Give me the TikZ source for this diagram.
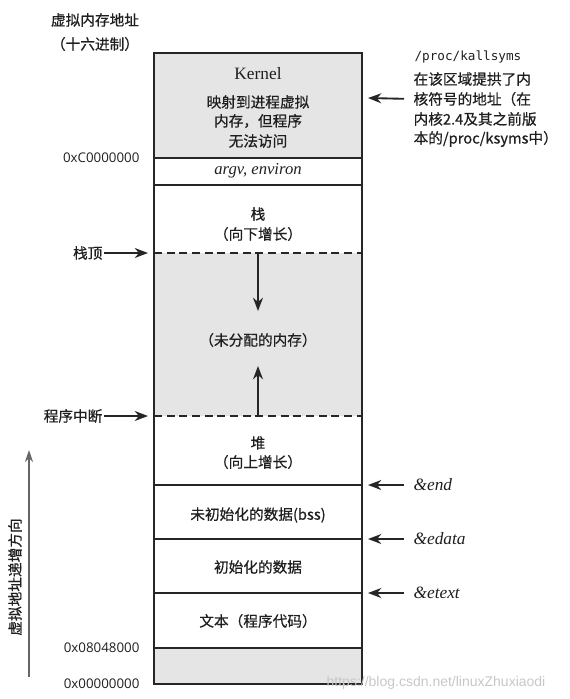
\documentclass[tikz,border=0pt]{standalone}
\usepackage{fontspec}
\setmainfont{Liberation Serif}
\newfontfamily\cjk[FakeBold=0.6]{Noto Sans CJK SC}
\newfontfamily\addrfont{Open Sans}
\newfontfamily\monofont{DejaVu Sans Mono}
\newfontfamily\markfont{Liberation Sans}
\usetikzlibrary{arrows.meta}
\colorlet{linecol}{black!85}
\colorlet{textcol}{black!88}
\colorlet{memfill}{black!10}
\colorlet{dircol}{black!60}
\tikzset{
  boxline/.style={line width=1.3pt, linecol},
  ptr/.style={-{Stealth[length=10pt,width=7.5pt]}, line width=1.4pt, linecol},
  cjktext/.style={font=\cjk\fontsize{11}{13}\selectfont, text=textcol, inner sep=1pt},
  latin/.style={font=\fontsize{13}{15}\selectfont, text=textcol, inner sep=1pt},
  addr/.style={font=\addrfont\fontsize{10}{12}\selectfont, text=textcol, anchor=east, inner sep=1pt},
  symname/.style={font=\itshape\fontsize{13}{15}\selectfont, text=textcol, anchor=west, inner sep=1pt}
}

\begin{document}
\begin{tikzpicture}[x=0.75pt, y=-0.75pt, >=Stealth]
  \useasboundingbox (0,0) rectangle (569,699);

  % Shaded regions.
  \fill[memfill] (154,53) rectangle (362,158);
  \fill[memfill] (154,253) rectangle (362,416);
  \fill[memfill] (154,648) rectangle (362,684);

  % Region boundaries.
  \foreach \n/\y in {top/53, kern/158, argv/185, stk/253, brk/416,
                     end/485, edata/539, etext/593, text/648, bot/684} {
    \coordinate (\n L) at (154,\y);
    \coordinate (\n R) at (362,\y);
  }
  \draw[boxline] (topL) rectangle (botR);
  \foreach \n in {kern, argv, end, edata, etext, text}
    \draw[boxline] (\n L) -- (\n R);
  \foreach \n in {stk, brk}
    \draw[boxline, dash pattern=on 6pt off 3.5pt] (\n L) -- (\n R);

  % Title.
  \node[cjktext] (vaddr) at (95,20) {虚拟内存地址};
  \node[cjktext] (hex) at (95,44) {（十六进制）};

  % Region texts.
  \node[latin] (kernel) at (258,74) {Kernel};
  \node[cjktext] (kmap1) at (258,102) {映射到进程虚拟};
  \node[cjktext] (kmap2) at (258,121) {内存，但程序};
  \node[cjktext] (kmap3) at (258,141) {无法访问};
  \node[latin, font=\itshape\fontsize{12.5}{14}\selectfont] (argv) at (258,171) {argv, environ};
  \node[cjktext] (stack) at (258,214) {栈};
  \node[cjktext] (stackdir) at (258,234) {（向下增长）};
  \node[cjktext] (free) at (258,340) {（未分配的内存）};
  \node[cjktext] (heap) at (258,443) {堆};
  \node[cjktext] (heapdir) at (258,462) {（向上增长）};
  \node[cjktext] (bss) at (258,515) {未初始化的数据(bss)};
  \node[cjktext] (data) at (258,567) {初始化的数据};
  \node[cjktext] (code) at (258,621) {文本（程序代码）};

  % Growth arrows.
  \coordinate (stkdown) at (258,311);
  \coordinate (heapup) at (258,366);
  \draw[ptr] (258,253) coordinate (stkmid) -- (stkdown);
  \draw[ptr] (258,416) coordinate (brkmid) -- (heapup);

  % Addresses.
  \node[addr] (kaddr) at (141,158) {0xC0000000};
  \node[addr] (taddr) at (141,648) {0x08048000};
  \node[addr] (zaddr) at (141,684) {0x00000000};

  % Left pointers.
  \node[cjktext, anchor=east] (sp) at (104,253) {栈顶};
  \node[cjktext, anchor=east] (brk) at (104,416) {程序中断};
  \coordinate (spend) at (148,253);
  \coordinate (brkend) at (148,416);
  \draw[ptr] (sp) -- (spend);
  \draw[ptr] (brk) -- (brkend);

  % Address direction.
  \coordinate (dirbot) at (29,677);
  \coordinate (dirtop) at (29,450);
  \draw[-{Stealth[length=9pt,width=6pt]}, line width=0.9pt, dircol] (dirbot) -- (dirtop);
  \node[cjktext, rotate=90] (dirlabel) at (15,577) {虚拟地址递增方向};

  % Right pointers.
  \node[font=\monofont\fontsize{9.5}{11}\selectfont, text=textcol, anchor=west, inner sep=1pt]
    (kallsyms) at (413,57) {/proc/kallsyms};
  \node[cjktext, anchor=west] (ks1) at (412,79) {在该区域提拱了内};
  \node[cjktext, anchor=west] (ks2) at (412,99) {核符号的地址（在};
  \node[cjktext, anchor=west] (ks3) at (412,119) {内核2.4及其之前版};
  \node[cjktext, anchor=west] (ks4) at (412,139) {本的/proc/ksyms中）};
  \coordinate (ksend) at (368,98);
  \draw[ptr, shorten <=6pt] (ks2.west) -- (ksend);

  \node[symname] (endsym) at (412,485) {\&end};
  \node[symname] (edatasym) at (412,539) {\&edata};
  \node[symname] (etextsym) at (412,593) {\&etext};
  \coordinate (endpt) at (368,485);
  \coordinate (edatapt) at (368,539);
  \coordinate (etextpt) at (368,593);
  \draw[ptr, shorten <=6pt] (endsym.west) -- (endpt);
  \draw[ptr, shorten <=6pt] (edatasym.west) -- (edatapt);
  \draw[ptr, shorten <=6pt] (etextsym.west) -- (etextpt);

  % Watermark.
  \node[font=\markfont\fontsize{10.5}{12}\selectfont, text=black!22] (mark) at (436,683)
    {https://blog.csdn.net/linuxZhuxiaodi};

\end{tikzpicture}
\end{document}
